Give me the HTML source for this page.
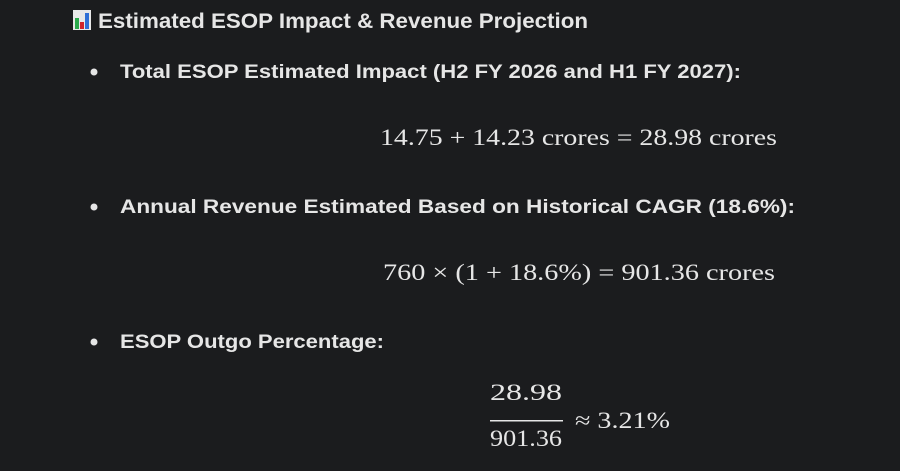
<!DOCTYPE html>
<html><head><meta charset="utf-8"><style>
html,body{margin:0;padding:0;background:#1b1c1e;}
svg{display:block}
.h{font-family:"Liberation Sans",sans-serif;font-weight:bold;fill:#e6e6e6}
.m{font-family:"Liberation Serif",serif;fill:#e6e6e6}
</style></head><body>
<svg width="900" height="471" viewBox="0 0 900 471">
<rect width="900" height="471" fill="#1b1c1e"/>
<g>
<rect x="73" y="10" width="18" height="20" fill="#e8e8e8"/>
<rect x="75" y="18" width="4" height="11" fill="#2aa84a"/>
<rect x="80" y="22" width="4" height="7" fill="#d0242a"/>
<rect x="85" y="13" width="4" height="16" fill="#2f6fd6"/>
</g>
<text class="h" x="98" y="28" font-size="21" textLength="490" lengthAdjust="spacingAndGlyphs">Estimated ESOP Impact &amp; Revenue Projection</text>
<circle cx="94" cy="72" r="3.5" fill="#e6e6e6"/>
<text class="h" x="120" y="78" font-size="19" textLength="621" lengthAdjust="spacingAndGlyphs">Total ESOP Estimated Impact (H2 FY 2026 and H1 FY 2027):</text>
<text class="m" x="380" y="145" font-size="23" textLength="397" lengthAdjust="spacingAndGlyphs">14.75 + 14.23 crores = 28.98 crores</text>
<circle cx="94" cy="207" r="3.5" fill="#e6e6e6"/>
<text class="h" x="120" y="213" font-size="19" textLength="675" lengthAdjust="spacingAndGlyphs">Annual Revenue Estimated Based on Historical CAGR (18.6%):</text>
<text class="m" x="383" y="280" font-size="23" textLength="392" lengthAdjust="spacingAndGlyphs">760 × (1 + 18.6%) = 901.36 crores</text>
<circle cx="94" cy="342" r="3.5" fill="#e6e6e6"/>
<text class="h" x="120" y="348" font-size="19" textLength="264" lengthAdjust="spacingAndGlyphs">ESOP Outgo Percentage:</text>
<g>
<text class="m" x="526" y="400" font-size="23" text-anchor="middle" textLength="72" lengthAdjust="spacingAndGlyphs">28.98</text>
<rect x="490" y="420" width="73" height="1.5" fill="#e6e6e6"/>
<text class="m" x="526" y="446" font-size="23" text-anchor="middle" textLength="72" lengthAdjust="spacingAndGlyphs">901.36</text>
<text class="m" x="575" y="428" font-size="23" textLength="95" lengthAdjust="spacingAndGlyphs">≈ 3.21%</text>
</g>
</svg>
</body></html>
